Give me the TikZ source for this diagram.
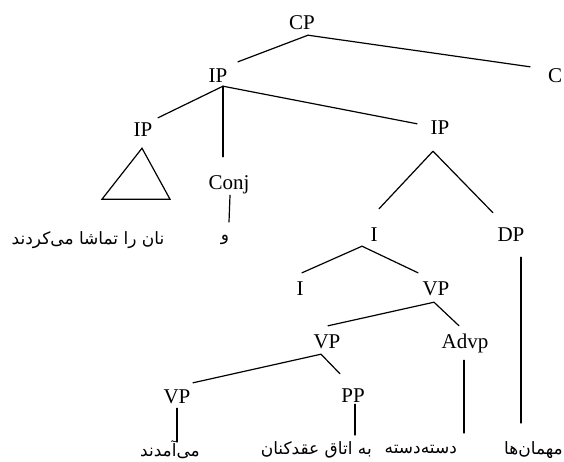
\documentclass[tikz,border=0pt]{standalone}
\usepackage{fontspec}
\setmainfont{Liberation Serif}
\newfontfamily\fa[Script=Arabic]{DejaVu Sans}
\TeXXeTstate=1
\begin{document}
\begin{tikzpicture}[x=1pt,y=-1pt,
  lab/.style={font=\fontsize{21}{24}\selectfont, inner sep=0pt, text height=15pt, text depth=0pt, anchor=base},
  fw/.style={font=\fa\fontsize{17}{20}\selectfont, inner sep=0pt},
  edge/.style={line width=1.2pt, line cap=round}]
\fill[white] (0,0) rectangle (564,462);
\useasboundingbox (0,0) rectangle (564,462);
% labels
\node[lab] (CP)   at (302,30)  {CP};
\node[lab] (IPt)  at (218,83)  {IP};
\node[lab] (C)    at (555,83)  {C};
\node[lab] (IPl)  at (143,137) {IP};
\node[lab] (Conj) at (229,190) {Conj};
\node[lab] (IPr)  at (440,135) {IP};
\node[lab] (I1)   at (374,241) {I};
\node[lab] (DP)   at (511,241) {DP};
\node[lab] (I2)   at (300,295) {I};
\node[lab] (VP1)  at (436,295) {VP};
\node[lab] (VP2)  at (327,348) {VP};
\node[lab] (Advp) at (465,348) {Advp};
\node[lab] (VP3)  at (177,403) {VP};
\node[lab] (PP)   at (353,402) {PP};
% Persian words
\node[fw] (tri)  at (88,240)  {\beginR نان را تماشا می‌کردند\endR};
\node[fw] (waw)  at (225,240) {\beginR و\endR};
\node[fw,anchor=east] (w1) at (563,450) {\beginR مهمان‌ها\endR};
\node[fw,anchor=east] (w2) at (457,450) {\beginR دسته‌دسته\endR};
\node[fw,anchor=east] (w3) at (372,450) {\beginR به اتاق عقدکنان\endR};
\node[fw,anchor=east] (w4) at (200,450) {\beginR می‌آمدند\endR};
% connectors
\draw[edge] ([shift={(6,5)}]CP.south) -- ([shift={(20,-6)}]IPt.north);
\draw[edge] ([shift={(6,5)}]CP.south) -- ([shift={(-25,-1)}]C.north);
\draw[edge] ([shift={(5,3)}]IPt.south) -- ([shift={(15,-4)}]IPl.north);
\draw[edge] ([shift={(5,3)}]IPt.south) -- ([shift={(-6,-18)}]Conj.north);
\draw[edge] ([shift={(5,3)}]IPt.south) -- ([shift={(-23,4)}]IPr.north);
\draw[edge] ([shift={(-1,11)}]IPl.south) -- ([shift={(-41,62)}]IPl.south) -- ([shift={(27,62)}]IPl.south) -- cycle;
\draw[edge] ([shift={(1,5)}]Conj.south) -- ([shift={(4,-18)}]waw.center);
\draw[edge] ([shift={(-7,16)}]IPr.south) -- ([shift={(5,-17)}]I1.north);
\draw[edge] ([shift={(-7,16)}]IPr.south) -- ([shift={(-18,-13)}]DP.north);
\draw[edge] ([shift={(-12,5)}]I1.south) -- ([shift={(2,-7)}]I2.north);
\draw[edge] ([shift={(-12,5)}]I1.south) -- ([shift={(-18,-7)}]VP1.north);
\draw[edge] ([shift={(-2,7)}]VP1.south) -- ([shift={(1,-7)}]VP2.north);
\draw[edge] ([shift={(-2,7)}]VP1.south) -- ([shift={(-6,-7)}]Advp.north);
\draw[edge] ([shift={(-6,6)}]VP2.south) -- ([shift={(16,-5)}]VP3.north);
\draw[edge] ([shift={(-6,6)}]VP2.south) -- ([shift={(-13,-13)}]PP.north);
\draw[edge] ([shift={(0,5)}]VP3.south) -- ([shift={(-23,-8)}]w4.east);
\draw[edge] ([shift={(2,2)}]PP.south) -- ([shift={(-17,-15)}]w3.east);
\draw[edge] ([shift={(-1,12)}]Advp.south) -- ([shift={(7,-17)}]w2.east);
\draw[edge] ([shift={(10,16)}]DP.south) -- ([shift={(-42,-27)}]w1.east);
\end{tikzpicture}
\end{document}
